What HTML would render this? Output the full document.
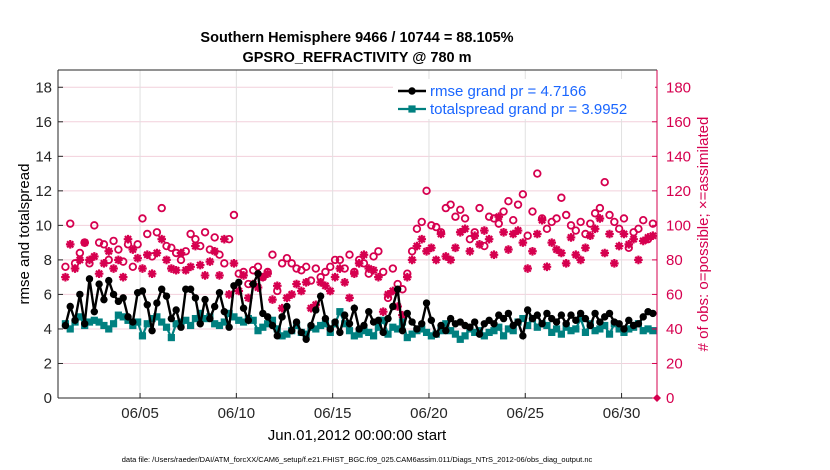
<!DOCTYPE html>
<html><head><meta charset="utf-8"><style>
body{margin:0;background:#fff;}
svg{display:block;font-family:"Liberation Sans",sans-serif;}
</style></head><body>
<svg id="chart" width="830" height="470">
<g id="grid"></g>
<g id="marks"></g>
<g id="axes"></g>
<text x="357" y="42" text-anchor="middle" font-size="14.5" font-weight="bold">Southern Hemisphere 9466 / 10744 = 88.105%</text>
<text x="357" y="62" text-anchor="middle" font-size="14.5" font-weight="bold">GPSRO_REFRACTIVITY @ 780 m</text>
<text transform="translate(29,234) rotate(-90)" text-anchor="middle" font-size="15">rmse and totalspread</text>
<text transform="translate(708,234) rotate(-90)" text-anchor="middle" font-size="15" fill="#d6004f"># of obs: o=possible; ×=assimilated</text>
<text x="357" y="440" text-anchor="middle" font-size="15">Jun.01,2012 00:00:00 start</text>
<text x="357" y="462" text-anchor="middle" font-size="7.5">data file: /Users/raeder/DAI/ATM_forcXX/CAM6_setup/f.e21.FHIST_BGC.f09_025.CAM6assim.011/Diags_NTrS_2012-06/obs_diag_output.nc</text>
<g id="legend"></g>
</svg>
<script>
const rmse=[4.2,5.3,4.5,6.0, 4.3,6.9,5.0,6.6, 5.7,6.8,6.0,5.6, 5.8,4.7,4.4,6.1, 6.2,5.4,3.9,5.5, 6.3,5.9,4.6,5.1, 4.1,6.3,6.3,5.8, 4.3,5.7,4.6,5.3, 6.1,5.0,4.1,6.5, 6.7,5.2,4.5,6.6, 7.2,4.9,4.7,4.2, 3.6,4.7,5.3,3.9, 4.4,3.8,3.4,4.2, 5.1,5.9,4.6,4.0, 4.4,3.8,4.8,4.3, 5.2,4.0,4.2,5.0, 4.4,4.5,3.8,4.6, 5.3,6.3,3.9,4.9, 4.4,4.0,4.3,5.5, 4.5,3.7,4.2,3.9, 4.6,4.3,4.4,4.2, 4.1,4.4,3.7,4.3, 4.5,4.3,4.8,4.6, 4.9,4.2,4.4,3.6, 5.1,4.6,4.8,4.3, 4.9,4.6,4.4,4.8, 4.3,4.8,4.5,4.9, 4.6,4.2,4.9,4.4, 4.7,4.9,4.4,4.3, 4.0,4.5,4.2,4.3, 4.7,5.0,4.9];
const spread=[4.3,4.0,4.4,4.7, 4.2,4.4,4.5,4.4, 4.2,4.0,4.3,4.8, 4.7,4.5,4.2,4.4, 3.6,4.3,4.6,4.7, 4.4,4.1,3.5,4.3, 4.4,4.5,4.2,4.6, 4.9,4.6,4.7,4.3, 4.2,4.4,4.9,4.7, 4.5,4.4,4.6,4.5, 3.9,4.1,4.3,4.5, 4.0,3.6,3.7,3.9, 4.2,3.8,3.7,4.1, 4.0,4.2,4.3,3.8, 4.3,5.0,4.3,3.9, 3.6,3.7,3.9,3.8, 3.6,4.1,4.5,3.7, 4.1,4.0,4.4,3.5, 3.7,3.9,4.0,3.8, 3.6,3.7,3.9,4.3, 3.9,3.7,3.4,3.6, 4.0,3.8,3.9,3.6, 3.8,3.9,4.1,3.6, 4.0,3.9,4.4,4.6, 4.2,4.6,4.1,4.3, 4.2,3.8,4.0,3.7, 4.1,3.9,4.0,4.6, 3.8,4.3,3.9,4.0, 4.2,3.7,4.3,4.0, 3.8,4.0,4.1,4.3, 3.9,4.0,3.9];
const possible=[76,101,78,84, 90,78,100,90, 89,80,91,86, 79,89,76,89, 104,95,82,96, 110,88,87,84, 80,85,95,92, 88,96,86,93, 83,78,92,106, 72,73,66,74, 76,70,73,83, 62,78,81,78, 75,74,76,68, 75,70,73,76, 80,80,75,83, 73,80,78,72, 82,85,73,58, 75,66,63,72, 85,98,102,120, 100,99,96,110, 112,105,109,104, 92,96,110,88, 105,104,101,108, 114,103,112,118, 94,108,130,104, 98,102,104,116, 106,100,97,102, 95,101,107,110, 125,106,102,98, 104,87,96,98, 103,92,101];
const assimilated=[70,89,75,80, 90,80,82,72, 78,85,75,80, 70,92,86,81, 75,83,72,84, 92,80,75,74, 84,74,76,88, 77,71,79,85, 71,92,60,78, 62,71,58,66, 64,70,72,57, 65,52,58,60, 66,62,67,52, 54,67,65,62, 70,75,67,58, 72,78,83,75, 74,70,50,60, 62,53,48,70, 80,88,92,85, 87,80,95,82, 80,87,96,98, 85,94,89,97, 92,83,105,96, 86,95,97,90, 75,85,95,103, 76,90,86,84, 78,93,83,80, 87,94,98,104, 84,95,78,88, 95,89,92,80, 91,93,94];
const leftTicks=[0,2,4,6,8,10,12,14,16,18];
const rightTicks=[0,20,40,60,80,100,120,140,160,180];
const xTickDays=[4,9,14,19,24,29];
const xTickLabels=["06/05","06/10","06/15","06/20","06/25","06/30"];
const startDay=0.125, stepDay=0.25;

const X0=58,X1=657,Y0=398,Y1=70,dMin=-0.26,dMax=30.84;
const sx=d=>X0+(d-dMin)/(dMax-dMin)*(X1-X0);
const sy=v=>Y0-v/19*(Y0-Y1);
const sr=v=>Y0-v/190*(Y0-Y1);
const NS="http://www.w3.org/2000/svg";
function mk(t,a,p){const e=document.createElementNS(NS,t);for(const k in a)e.setAttribute(k,a[k]);p.appendChild(e);return e;}
const grid=document.getElementById('grid'),marks=document.getElementById('marks'),axes=document.getElementById('axes'),leg=document.getElementById('legend');
const red="#d6004f";
rightTicks.forEach(v=>{if(v>0){const l=mk('line',{x1:X0,x2:X1,y1:sr(v),y2:sr(v),stroke:"#f2d0dc","stroke-width":1},grid);

}});
xTickDays.forEach(d=>{const l=mk('line',{x1:sx(d),x2:sx(d),y1:Y1,y2:Y0,stroke:"#e0e0e0","stroke-width":1},grid);

});
const t=i=>startDay+i*stepDay;
function star(x,y,s,q,p){return mk('path',{d:`M${x-s},${y}H${x+s}M${x},${y-s}V${y+s}M${x-q},${y-q}L${x+q},${y+q}M${x-q},${y+q}L${x+q},${y-q}`,stroke:red,"stroke-width":2.2},p);}
possible.forEach((v,i)=>{const c=mk('circle',{cx:sx(t(i)),cy:sr(v),r:3.3,fill:"none",stroke:red,"stroke-width":1.8},marks);

});
assimilated.forEach((v,i)=>{const g=star(sx(t(i)),sr(v),4.3,3.1,marks);

});
const sp=mk('polyline',{points:spread.map((v,i)=>sx(t(i))+","+sy(v)).join(" "),fill:"none",stroke:"#008080","stroke-width":2.2},marks);


spread.forEach((v,i)=>{const r=mk('rect',{x:sx(t(i))-3.6,y:sy(v)-3.6,width:7.2,height:7.2,fill:"#008080"},marks);

});
const rl=mk('polyline',{points:rmse.map((v,i)=>sx(t(i))+","+sy(v)).join(" "),fill:"none",stroke:"#000","stroke-width":2.4},marks);


rmse.forEach((v,i)=>{const c=mk('circle',{cx:sx(t(i)),cy:sy(v),r:3.7,fill:"#000"},marks);

});
const zm=mk('path',{d:`M${X1-4},${Y0}L${X1},${Y0-4}L${X1+4},${Y0}L${X1},${Y0+4}Z`,fill:red},marks);


// legend
mk('rect',{x:393,y:79,width:262,height:40,fill:"#fff"},leg);
mk('line',{x1:398,y1:91,x2:426,y2:91,stroke:"#000","stroke-width":2.4},leg);
mk('circle',{cx:412,cy:91,r:3.7,fill:"#000"},leg);
const lt1=mk('text',{x:430,y:96,"font-size":15,fill:"#1a66ff"},leg);lt1.textContent="rmse grand pr = 4.7166";


mk('line',{x1:398,y1:109,x2:426,y2:109,stroke:"#008080","stroke-width":2.2},leg);
mk('rect',{x:408.4,y:105.4,width:7.2,height:7.2,fill:"#008080"},leg);
const lt2=mk('text',{x:430,y:114,"font-size":15,fill:"#1a66ff"},leg);lt2.textContent="totalspread grand pr = 3.9952";


// axes
mk('line',{x1:X0,x2:X0,y1:Y1,y2:Y0,stroke:"#262626","stroke-width":1},axes);
mk('line',{x1:X0,x2:X1,y1:Y0,y2:Y0,stroke:"#262626","stroke-width":1},axes);
mk('line',{x1:X0,x2:X1,y1:Y1,y2:Y1,stroke:"#262626","stroke-width":1},axes);
mk('line',{x1:X1,x2:X1,y1:Y1,y2:Y0,stroke:red,"stroke-width":1},axes);
leftTicks.forEach(v=>{mk('line',{x1:X0,x2:X0+5,y1:sy(v),y2:sy(v),stroke:"#262626"},axes);
const tx=mk('text',{x:X0-6,y:sy(v)+5,"text-anchor":"end","font-size":15,fill:"#262626"},axes);tx.textContent=v;

});
rightTicks.forEach(v=>{mk('line',{x1:X1-5,x2:X1,y1:sr(v),y2:sr(v),stroke:red},axes);
const tx=mk('text',{x:X1+9,y:sr(v)+5,"font-size":15,fill:red},axes);tx.textContent=v;

});
xTickDays.forEach((d,i)=>{mk('line',{x1:sx(d),x2:sx(d),y1:Y0,y2:Y0-5,stroke:"#262626"},axes);
const tx=mk('text',{x:sx(d),y:Y0+20,"text-anchor":"middle","font-size":15,fill:"#262626"},axes);tx.textContent=xTickLabels[i];

});
</script>
</body></html>
